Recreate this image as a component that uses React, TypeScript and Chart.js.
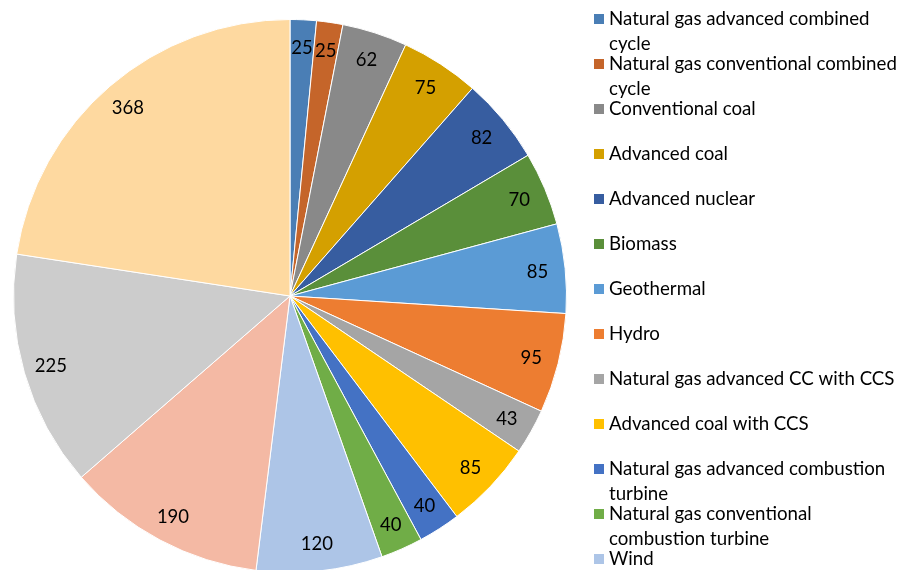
import React, { useEffect, useRef } from "react";
import { Chart, registerables } from "chart.js";

Chart.register(...registerables);

const categories: string[] = [
  "Natural gas advanced combined cycle",
  "Natural gas conventional combined cycle",
  "Conventional coal",
  "Advanced coal",
  "Advanced nuclear",
  "Biomass",
  "Geothermal",
  "Hydro",
  "Natural gas advanced CC with CCS",
  "Advanced coal with CCS",
  "Natural gas advanced combustion turbine",
  "Natural gas conventional combustion turbine",
  "Wind",
  "Wind offshore",
  "Solar thermal",
  "Solar PV",
];

const values: number[] = [25, 25, 62, 75, 82, 70, 85, 95, 43, 85, 40, 40, 120, 190, 225, 368];

const colors: string[] = [
  "#4A7EB5",
  "#C5652A",
  "#898989",
  "#D4A000",
  "#375DA0",
  "#5A8F3A",
  "#5B9BD5",
  "#ED7D31",
  "#A5A5A5",
  "#FFC000",
  "#4472C4",
  "#70AD47",
  "#ADC5E7",
  "#F4B9A4",
  "#CCCCCC",
  "#FED9A0",
];

const FONT = "Lato";
const VIEW_H = 570;

function wrapText(ctx: CanvasRenderingContext2D, text: string, maxW: number): string[] {
  const words = text.split(" ");
  const lines: string[] = [];
  let cur = "";
  for (const w of words) {
    const test = cur ? cur + " " + w : w;
    if (ctx.measureText(test).width > maxW && cur) {
      lines.push(cur);
      cur = w;
    } else {
      cur = test;
    }
  }
  if (cur) lines.push(cur);
  return lines;
}

const labelPlugin = {
  id: "insideEndLabels",
  afterDatasetsDraw(chart: any) {
    const ctx: CanvasRenderingContext2D = chart.ctx;
    const meta = chart.getDatasetMeta(0);
    ctx.save();
    ctx.font = `18.5px ${FONT}`;
    ctx.fillStyle = "#000000";
    ctx.textAlign = "center";
    ctx.textBaseline = "middle";
    meta.data.forEach((arc: any, i: number) => {
      const p = arc.getProps(["x", "y", "startAngle", "endAngle", "outerRadius"], true);
      const mid = (p.startAngle + p.endAngle) / 2;
      const r = p.outerRadius * 0.9;
      ctx.fillText(String(values[i]), p.x + Math.cos(mid) * r, p.y + Math.sin(mid) * r + 1);
    });
    ctx.restore();
  },
};

const legendPlugin = {
  id: "wrappedLegend",
  afterDraw(chart: any) {
    const ctx: CanvasRenderingContext2D = chart.ctx;
    ctx.save();
    ctx.font = `18.7px ${FONT}`;
    ctx.textBaseline = "middle";
    ctx.textAlign = "left";
    const boxX = 594;
    const textX = 609;
    const top = 19;
    const step = 45;
    const lineH = 24.5;
    const maxW = 294;
    categories.forEach((label, i) => {
      const cy = top + step * i;
      if (cy - 8 > VIEW_H) return;
      ctx.fillStyle = colors[i];
      ctx.fillRect(boxX, cy - 5, 10, 10);
      ctx.fillStyle = "#000000";
      const lines = wrapText(ctx, label, maxW);
      lines.forEach((ln, j) => ctx.fillText(ln, textX, cy + j * lineH));
    });
    ctx.restore();
  },
};

export default function App() {
  const ref = useRef<HTMLCanvasElement | null>(null);

  useEffect(() => {
    if (!ref.current) return;
    const chart = new Chart(ref.current, {
      type: "pie",
      data: {
        labels: categories,
        datasets: [
          {
            data: values,
            backgroundColor: colors,
            borderColor: "#ffffff",
            borderWidth: 1,
          },
        ],
      },
      options: {
        animation: false,
        responsive: false,
        devicePixelRatio: 1,
        layout: { padding: { left: 13, top: 19, right: 344, bottom: 27 } },
        plugins: {
          legend: { display: false },
          tooltip: { enabled: false },
        },
      },
      plugins: [labelPlugin, legendPlugin],
    });
    return () => chart.destroy();
  }, []);

  return (
    <div
      style={{
        position: "fixed",
        left: 0,
        top: 0,
        width: 911,
        height: VIEW_H,
        overflow: "hidden",
        background: "#ffffff",
      }}
    >
      <canvas ref={ref} width={911} height={600} style={{ display: "block" }} />
    </div>
  );
}
